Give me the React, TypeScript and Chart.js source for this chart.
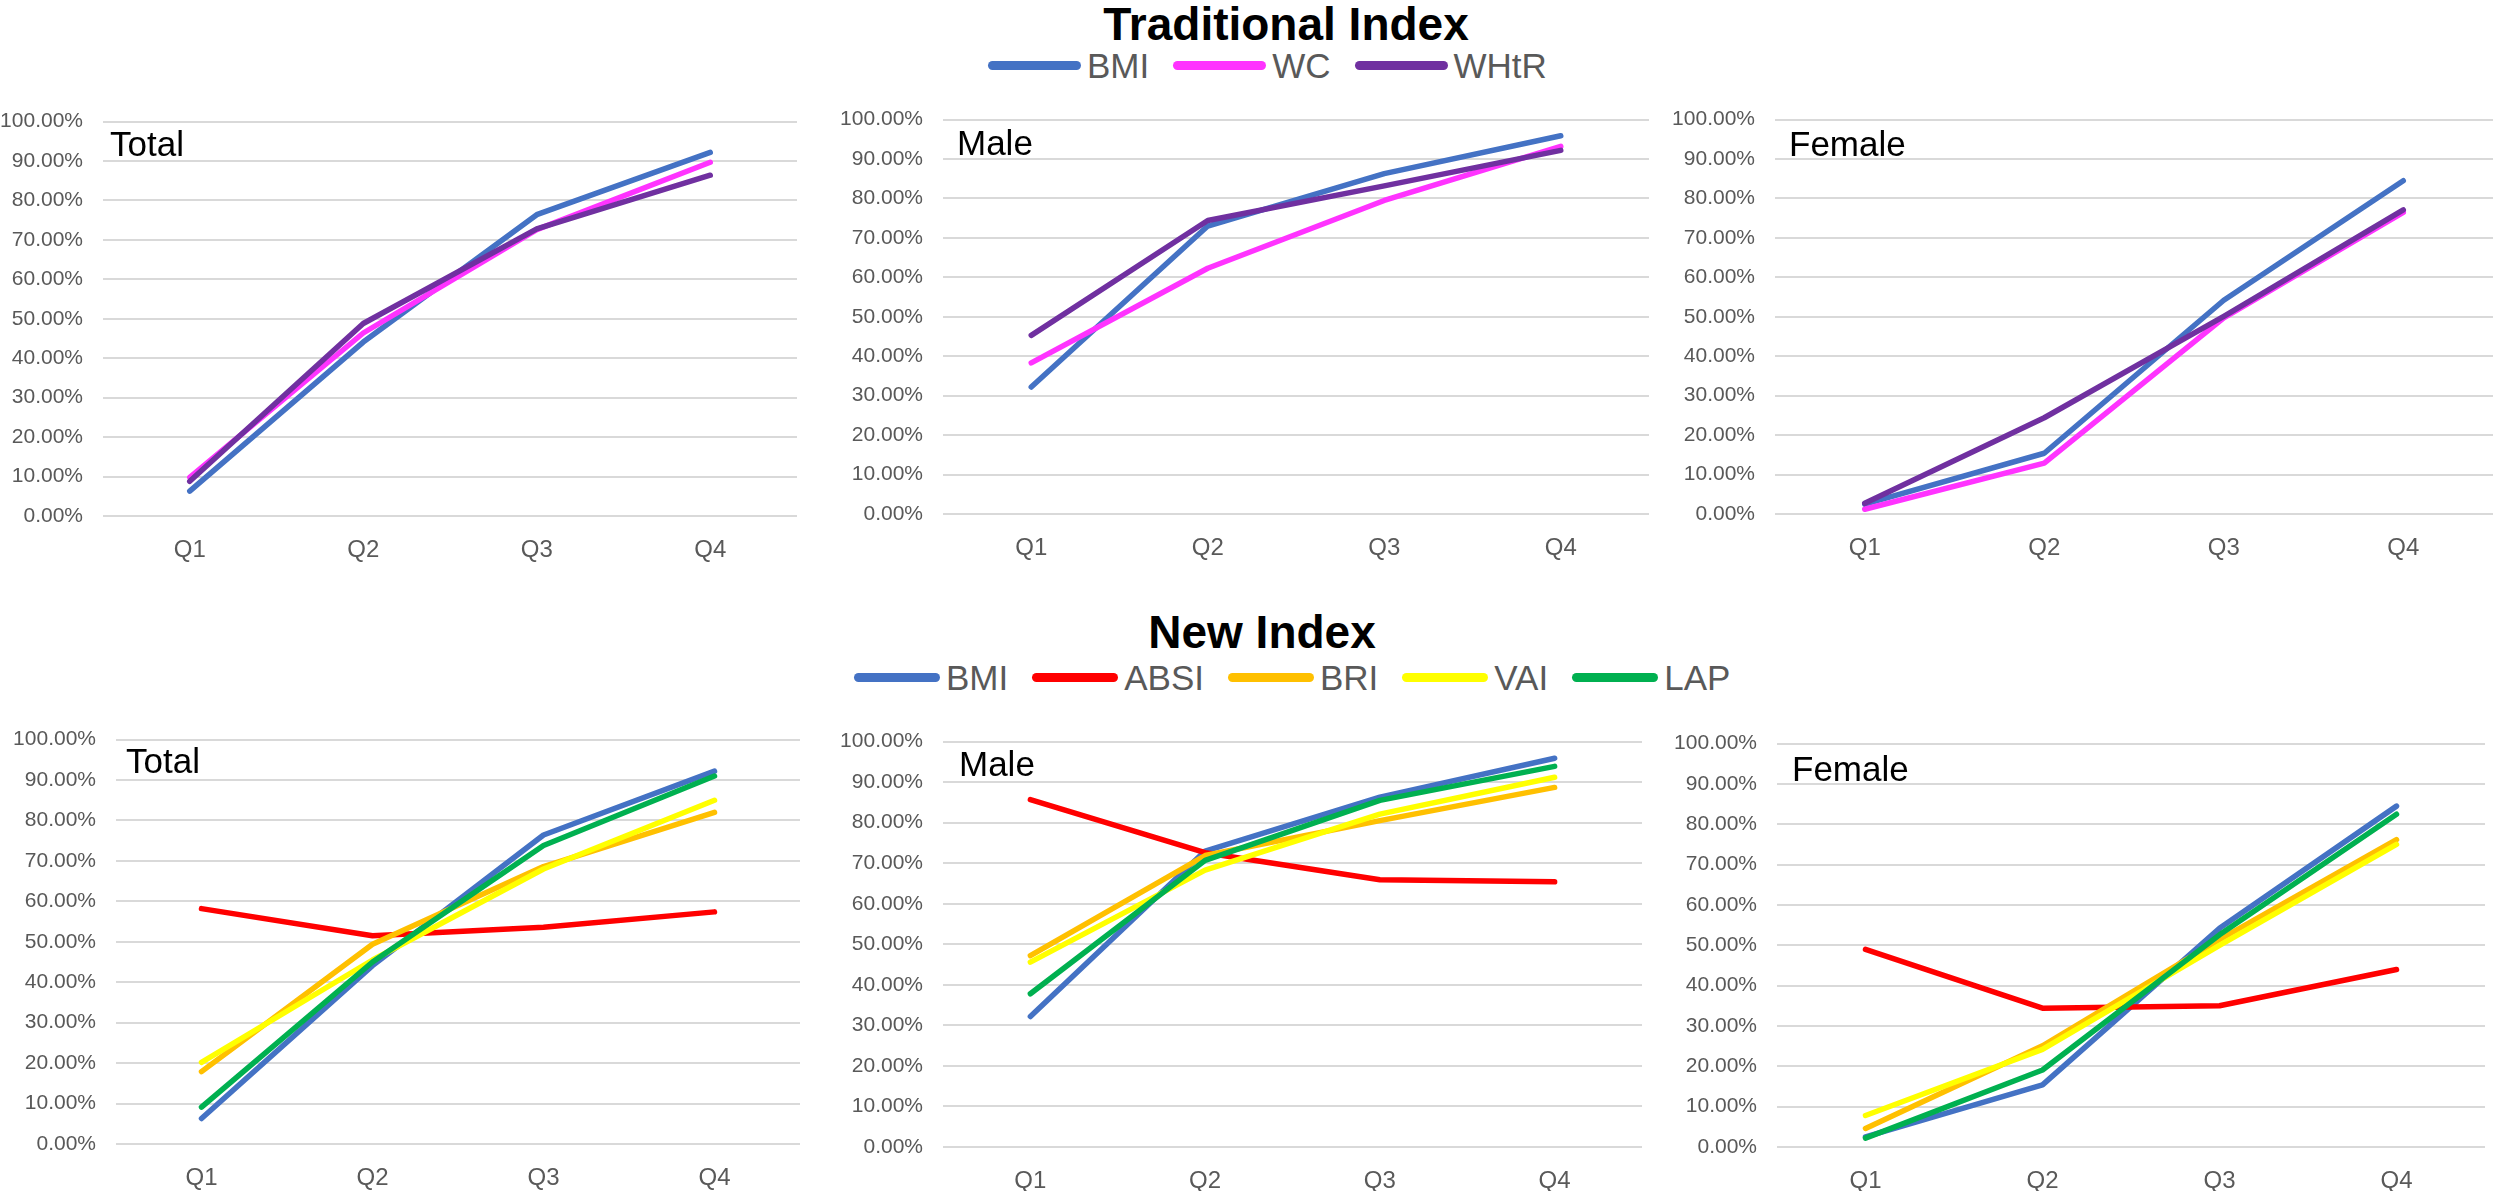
import React, { useEffect, useRef } from "react";
import { Chart, registerables } from "chart.js";

Chart.register(...registerables);

// ---------- data ----------
const quarters = ["Q1", "Q2", "Q3", "Q4"];

const bmiTotal = [6.3, 44.1, 76.4, 92.2];
const bmiMale = [32.2, 73.0, 86.3, 95.9];
const bmiFemale = [2.5, 15.4, 54.2, 84.5];

const wcTotal = [9.8, 46.4, 72.6, 89.7];
const wcMale = [38.3, 62.3, 79.5, 93.2];
const wcFemale = [1.2, 12.9, 49.7, 76.5];

const whtrTotal = [8.8, 48.8, 72.8, 86.4];
const whtrMale = [45.3, 74.4, 83.2, 92.2];
const whtrFemale = [2.7, 24.4, 50.1, 77.1];

const absiTotal = [58.2, 51.5, 53.6, 57.4];
const absiMale = [85.7, 72.6, 65.9, 65.4];
const absiFemale = [49.0, 34.4, 35.0, 44.0];

const briTotal = [17.9, 49.4, 68.6, 82.0];
const briMale = [47.2, 71.9, 80.5, 88.7];
const briFemale = [4.6, 25.1, 51.4, 76.2];

const vaiTotal = [20.2, 45.5, 68.0, 85.0];
const vaiMale = [45.6, 68.3, 82.1, 91.2];
const vaiFemale = [7.8, 24.2, 50.0, 75.0];

const lapTotal = [9.1, 45.0, 73.8, 91.0];
const lapMale = [37.8, 70.7, 85.5, 93.9];
const lapFemale = [2.2, 19.1, 52.6, 82.5];

const yMin = 0;
const yMax = 100;
const yStep = 10;

// ---------- styles ----------
const COLORS: Record<string, string> = {
  BMI: "#4472C4",
  WC: "#FF33FF",
  WHtR: "#7030A0",
  ABSI: "#FF0000",
  BRI: "#FFC000",
  VAI: "#FFFF00",
  LAP: "#00B050",
};

const traditionalNames = ["BMI", "WC", "WHtR"];
const newNames = ["BMI", "ABSI", "BRI", "VAI", "LAP"];

type Series = { label: string; data: number[] };

type PanelDef = {
  text: string;
  series: Series[];
  left: number;
  right: number;
  top: number;
  bottom: number;
  dx: number;
  dy: number;
};

const Y_AXIS_W = 110;
const X_AXIS_H = 50;
const PAD_TOP = 20;
const PAD_RIGHT = 4;

const panels: PanelDef[] = [
  {
    text: "Total",
    series: [
      { label: "BMI", data: bmiTotal },
      { label: "WC", data: wcTotal },
      { label: "WHtR", data: whtrTotal },
    ],
    left: 103, right: 797, top: 109, bottom: 516, dx: 7, dy: 34,
  },
  {
    text: "Male",
    series: [
      { label: "BMI", data: bmiMale },
      { label: "WC", data: wcMale },
      { label: "WHtR", data: whtrMale },
    ],
    left: 943, right: 1649, top: 107, bottom: 514, dx: 14, dy: 35,
  },
  {
    text: "Female",
    series: [
      { label: "BMI", data: bmiFemale },
      { label: "WC", data: wcFemale },
      { label: "WHtR", data: whtrFemale },
    ],
    left: 1775, right: 2493, top: 107, bottom: 514, dx: 14, dy: 36,
  },
  {
    text: "Total",
    series: [
      { label: "BMI", data: bmiTotal },
      { label: "ABSI", data: absiTotal },
      { label: "BRI", data: briTotal },
      { label: "VAI", data: vaiTotal },
      { label: "LAP", data: lapTotal },
    ],
    left: 116, right: 800, top: 727, bottom: 1144, dx: 10, dy: 33,
  },
  {
    text: "Male",
    series: [
      { label: "BMI", data: bmiMale },
      { label: "ABSI", data: absiMale },
      { label: "BRI", data: briMale },
      { label: "VAI", data: vaiMale },
      { label: "LAP", data: lapMale },
    ],
    left: 943, right: 1642, top: 729, bottom: 1147, dx: 16, dy: 34,
  },
  {
    text: "Female",
    series: [
      { label: "BMI", data: bmiFemale },
      { label: "ABSI", data: absiFemale },
      { label: "BRI", data: briFemale },
      { label: "VAI", data: vaiFemale },
      { label: "LAP", data: lapFemale },
    ],
    left: 1777, right: 2485, top: 731, bottom: 1147, dx: 15, dy: 37,
  },
];

const panelLabelPlugin = {
  id: "panelLabel",
  afterDraw(chart: any, _args: any, opts: any) {
    const { ctx, chartArea } = chart;
    ctx.save();
    ctx.font = '35px "Liberation Sans", Arial, sans-serif';
    ctx.fillStyle = "#000000";
    ctx.textAlign = "left";
    ctx.textBaseline = "alphabetic";
    ctx.fillText(opts.text, chartArea.left + opts.dx, chartArea.top + opts.dy);
    ctx.restore();
  },
};

function Panel({ def }: { def: PanelDef }) {
  const ref = useRef<HTMLCanvasElement | null>(null);
  const width = def.right - def.left + Y_AXIS_W + PAD_RIGHT;
  const height = def.bottom - def.top + PAD_TOP + X_AXIS_H;

  useEffect(() => {
    if (!ref.current) return;
    const n = def.series.length;
    const chart = new Chart(ref.current, {
      type: "line",
      data: {
        labels: quarters,
        datasets: def.series.map((s, i) => ({
          label: s.label,
          data: s.data,
          borderColor: COLORS[s.label],
          backgroundColor: COLORS[s.label],
          borderWidth: 5.5,
          pointRadius: 0,
          pointHoverRadius: 0,
          tension: 0,
          fill: false,
          borderCapStyle: "round",
          borderJoinStyle: "round",
          order: n - i,
        })),
      },
      options: {
        animation: false,
        responsive: false,
        maintainAspectRatio: false,
        devicePixelRatio: 1,
        layout: { padding: { top: PAD_TOP, right: PAD_RIGHT, left: 0, bottom: 0 } },
        plugins: {
          legend: { display: false },
          tooltip: { enabled: false },
          title: { display: false },
          panelLabel: { text: def.text, dx: def.dx, dy: def.dy },
        } as any,
        scales: {
          x: {
            offset: true,
            grid: { display: false },
            border: { display: false },
            ticks: {
              color: "#595959",
              font: { family: '"Liberation Sans", Arial, sans-serif', size: 24 },
              padding: 12,
              maxRotation: 0,
              autoSkip: false,
            },
            afterFit: (s: any) => {
              s.height = X_AXIS_H;
            },
          },
          y: {
            min: yMin,
            max: yMax,
            ticks: {
              stepSize: yStep,
              color: "#595959",
              font: { family: '"Liberation Sans", Arial, sans-serif', size: 21 },
              padding: 20,
              callback: (v: any) => Number(v).toFixed(2) + "%",
            },
            grid: { color: "#D9D9D9", lineWidth: 2, drawTicks: false },
            border: { display: false },
            afterFit: (s: any) => {
              s.width = Y_AXIS_W;
            },
          },
        },
      },
      plugins: [panelLabelPlugin as any],
    });
    return () => chart.destroy();
  }, []);

  return (
    <canvas
      ref={ref}
      width={width}
      height={height}
      style={{
        position: "absolute",
        left: def.left - Y_AXIS_W,
        top: def.top - PAD_TOP,
        width,
        height,
      }}
    />
  );
}

function Legend({ names, left, top, lineW }: { names: string[]; left: number; top: number; lineW: number }) {
  return (
    <div
      style={{
        position: "absolute",
        left,
        top,
        display: "flex",
        alignItems: "center",
        height: 35,
        fontFamily: '"Liberation Sans", Arial, sans-serif',
        fontSize: 35,
        lineHeight: "35px",
        color: "#595959",
        whiteSpace: "nowrap",
      }}
    >
      {names.map((n) => (
        <div key={n} style={{ display: "flex", alignItems: "center", marginRight: 24 }}>
          <div
            style={{
              width: lineW,
              height: 9,
              borderRadius: 4.5,
              background: COLORS[n],
              marginRight: 6,
            }}
          />
          <span>{n}</span>
        </div>
      ))}
    </div>
  );
}

function Title({ text, center, top }: { text: string; center: number; top: number }) {
  return (
    <div
      style={{
        position: "absolute",
        left: center - 400,
        width: 800,
        top,
        textAlign: "center",
        fontFamily: '"Liberation Sans", Arial, sans-serif',
        fontWeight: "bold",
        fontSize: 46,
        lineHeight: "46px",
        color: "#000000",
        whiteSpace: "nowrap",
      }}
    >
      {text}
    </div>
  );
}

export default function App() {
  return (
    <div
      style={{
        position: "fixed",
        left: 0,
        top: 0,
        width: 2497,
        height: 1191,
        background: "#FFFFFF",
        overflow: "hidden",
      }}
    >
      <Title text="Traditional Index" center={1286} top={1} />
      <Legend names={traditionalNames} left={988} top={48} lineW={93} />
      <Title text="New Index" center={1262} top={609} />
      <Legend names={newNames} left={854} top={660} lineW={86} />
      {panels.map((p, i) => (
        <Panel key={i} def={p} />
      ))}
    </div>
  );
}
